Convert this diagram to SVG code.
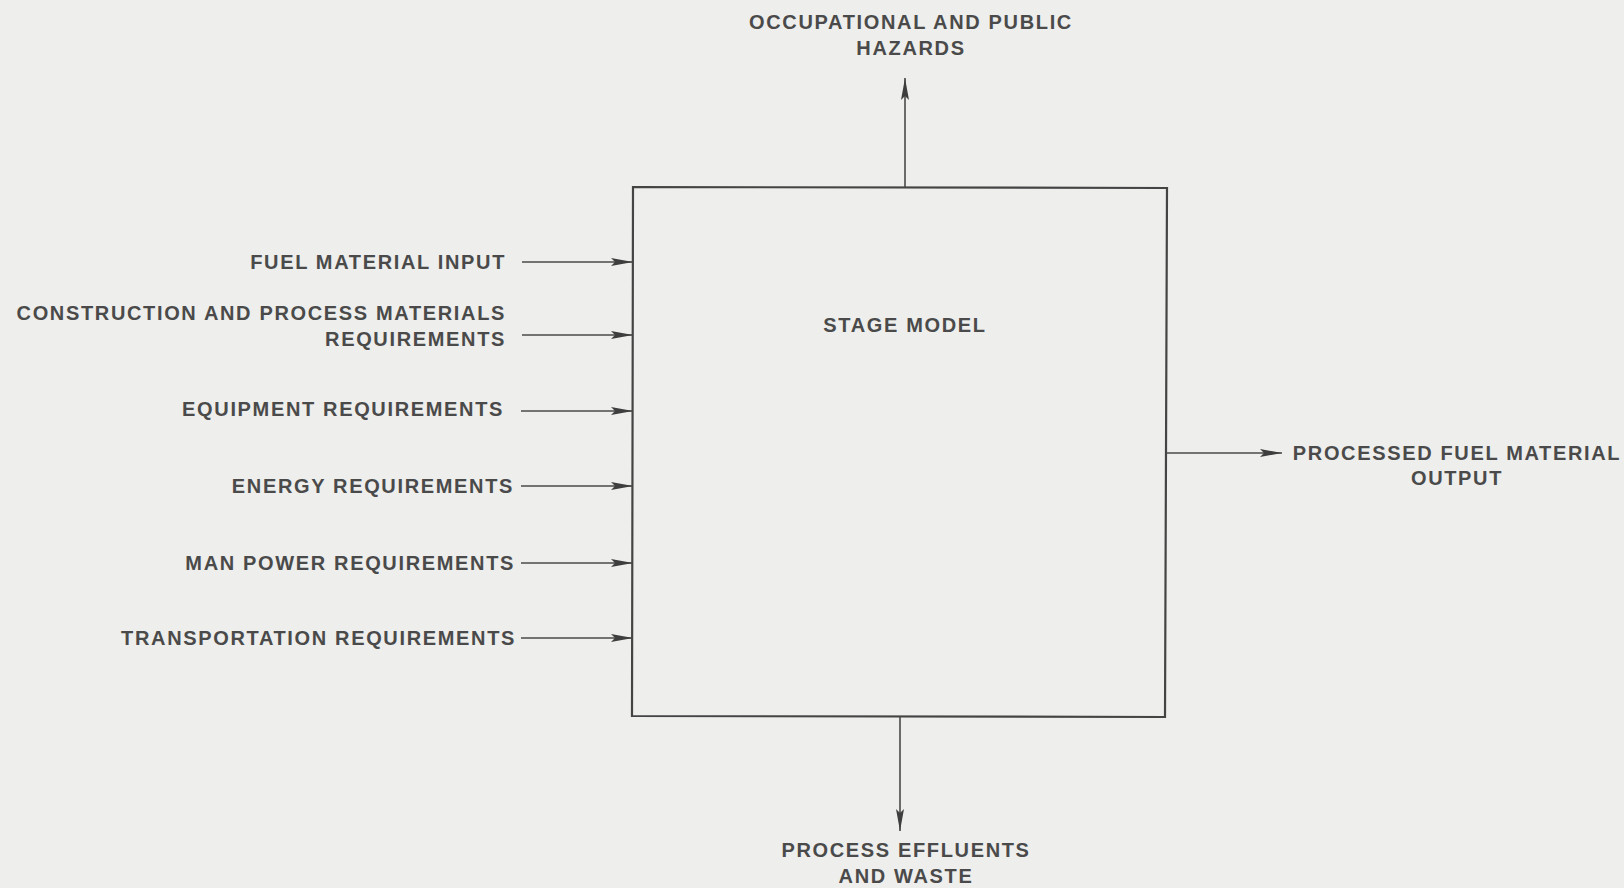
<svg xmlns="http://www.w3.org/2000/svg" width="1624" height="888" viewBox="0 0 1624 888">
  <style>
    .lbl { font-family: "Liberation Sans", Arial, sans-serif; font-size: 20px; letter-spacing: 1.65px; fill: #4a4a4a; font-weight: bold; }
    .end { text-anchor: end; }
    .mid { text-anchor: middle; }
    .wire { stroke: #4a4a4a; stroke-width: 1.6; fill: none; }
    .frame { stroke: #444; stroke-width: 2.2; fill: none; }
  </style>
  <defs>
    <marker id="head" markerUnits="userSpaceOnUse" markerWidth="24" markerHeight="12" refX="22" refY="6" orient="auto">
      <path d="M0,2 L22,6 L0,10 L4,6 Z" fill="#3e3e3e"/>
    </marker>
  </defs>
  <rect width="1624" height="888" fill="#eeeeec"/>

  <g id="stage-model">
    <path class="frame" d="M633,187 L1167,188 L1165,717 L632,716 Z"/>
    <text class="lbl mid" x="905" y="332">STAGE MODEL</text>
  </g>

  <g id="connectors">
    <line class="wire" x1="522" y1="262" x2="633" y2="262" marker-end="url(#head)"/>
    <line class="wire" x1="522" y1="335" x2="633" y2="335" marker-end="url(#head)"/>
    <line class="wire" x1="521" y1="411" x2="633" y2="411" marker-end="url(#head)"/>
    <line class="wire" x1="521" y1="486" x2="633" y2="486" marker-end="url(#head)"/>
    <line class="wire" x1="521" y1="563" x2="633" y2="563" marker-end="url(#head)"/>
    <line class="wire" x1="521" y1="638" x2="633" y2="638" marker-end="url(#head)"/>
    <line class="wire" x1="905" y1="187" x2="905" y2="78" marker-end="url(#head)"/>
    <line class="wire" x1="1166" y1="453" x2="1282" y2="453" marker-end="url(#head)"/>
    <line class="wire" x1="900" y1="717" x2="900" y2="831" marker-end="url(#head)"/>
  </g>

  <g id="fuel-material-input">
    <text class="lbl end" x="506" y="269">FUEL MATERIAL INPUT</text>
  </g>
  <g id="construction-materials">
    <text class="lbl end" x="506" y="320">CONSTRUCTION AND PROCESS MATERIALS</text>
    <text class="lbl end" x="506" y="346">REQUIREMENTS</text>
  </g>
  <g id="equipment">
    <text class="lbl end" x="504" y="416">EQUIPMENT REQUIREMENTS</text>
  </g>
  <g id="energy">
    <text class="lbl end" x="514" y="493">ENERGY REQUIREMENTS</text>
  </g>
  <g id="man-power">
    <text class="lbl end" x="515" y="570">MAN POWER REQUIREMENTS</text>
  </g>
  <g id="transportation">
    <text class="lbl end" x="516" y="645">TRANSPORTATION REQUIREMENTS</text>
  </g>
  <g id="hazards">
    <text class="lbl mid" x="911" y="29">OCCUPATIONAL AND PUBLIC</text>
    <text class="lbl mid" x="911" y="55">HAZARDS</text>
  </g>
  <g id="processed-output">
    <text class="lbl mid" x="1457" y="460">PROCESSED FUEL MATERIAL</text>
    <text class="lbl mid" x="1457" y="485">OUTPUT</text>
  </g>
  <g id="effluents">
    <text class="lbl mid" x="906" y="857">PROCESS EFFLUENTS</text>
    <text class="lbl mid" x="906" y="883">AND WASTE</text>
  </g>
</svg>
